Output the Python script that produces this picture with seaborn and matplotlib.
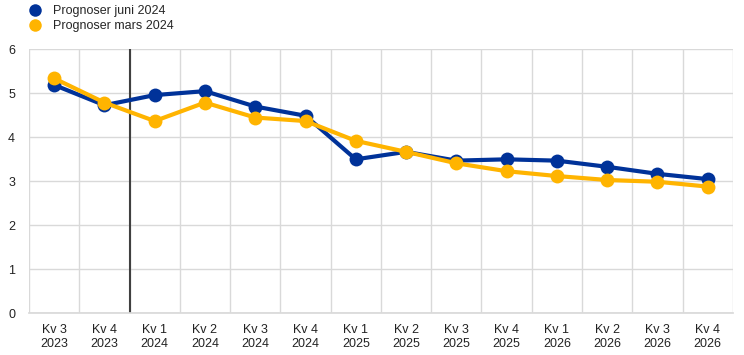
import matplotlib
matplotlib.use("Agg")
import matplotlib.pyplot as plt
from matplotlib.lines import Line2D
import seaborn as sns
import pandas as pd

quarters = ["Kv 3\n2023", "Kv 4\n2023", "Kv 1\n2024", "Kv 2\n2024", "Kv 3\n2024", "Kv 4\n2024",
            "Kv 1\n2025", "Kv 2\n2025", "Kv 3\n2025", "Kv 4\n2025", "Kv 1\n2026", "Kv 2\n2026",
            "Kv 3\n2026", "Kv 4\n2026"]
juni_2024 = [5.19, 4.73, 4.96, 5.05, 4.70, 4.49, 3.50, 3.67, 3.47, 3.50, 3.47, 3.33, 3.17, 3.05]
mars_2024 = [5.34, 4.79, 4.37, 4.79, 4.45, 4.37, 3.92, 3.67, 3.41, 3.23, 3.12, 3.03, 2.99, 2.88]
series_names = ["Prognoser juni 2024", "Prognoser mars 2024"]
colors = ["#003299", "#FFB400"]

sns.set_theme(style="white")
plt.rcParams["font.family"] = ["Liberation Sans", "DejaVu Sans"]

n = len(quarters)
df = pd.DataFrame({
    "x": list(range(n)) * 2,
    "value": juni_2024 + mars_2024,
    "series": [series_names[0]] * n + [series_names[1]] * n,
})

fig = plt.figure(figsize=(7.44, 3.55), dpi=100)
ax = fig.add_axes([0.039, 0.1175, 0.946, 0.7435])

sns.lineplot(data=df, x="x", y="value", hue="series", palette=colors, hue_order=series_names,
             marker="o", markersize=10, markeredgewidth=0, linewidth=3, ax=ax, legend=False)

ax.set_xlim(-0.5, n - 0.5)
ax.set_ylim(0, 6)
ax.set_xticks(range(n))
ax.set_xticklabels(quarters, fontsize=9, color="#222222")
ax.set_yticks(range(0, 7))
ax.set_yticklabels([str(v) for v in range(0, 7)], fontsize=9, color="#222222")
ax.set_xticks([i + 0.5 for i in range(-1, n)], minor=True)
ax.grid(False)
ax.grid(True, which="minor", axis="x", color="#d9d9d9", linewidth=1)
ax.grid(True, which="major", axis="y", color="#d9d9d9", linewidth=1)
ax.set_axisbelow(True)
ax.tick_params(axis="both", which="both", length=0)
ax.tick_params(axis="x", pad=8)
ax.tick_params(axis="y", pad=10)
for s in ["top", "right", "left"]:
    ax.spines[s].set_visible(False)
ax.spines["bottom"].set_color("#d9d9d9")
ax.set_xlabel("")
ax.set_ylabel("")

ax.axvline(1.5, color="#404040", linewidth=1.5, zorder=1.5)

handles = [Line2D([], [], marker="o", linestyle="", markersize=9, color=c, markeredgewidth=0) for c in colors]
fig.legend(handles, series_names, loc="upper left", bbox_to_anchor=(0.0225, 1.017), frameon=False,
           fontsize=9, handletextpad=0.8, labelspacing=0.25, handlelength=1.2)

fig.savefig("out.png", dpi=100)
